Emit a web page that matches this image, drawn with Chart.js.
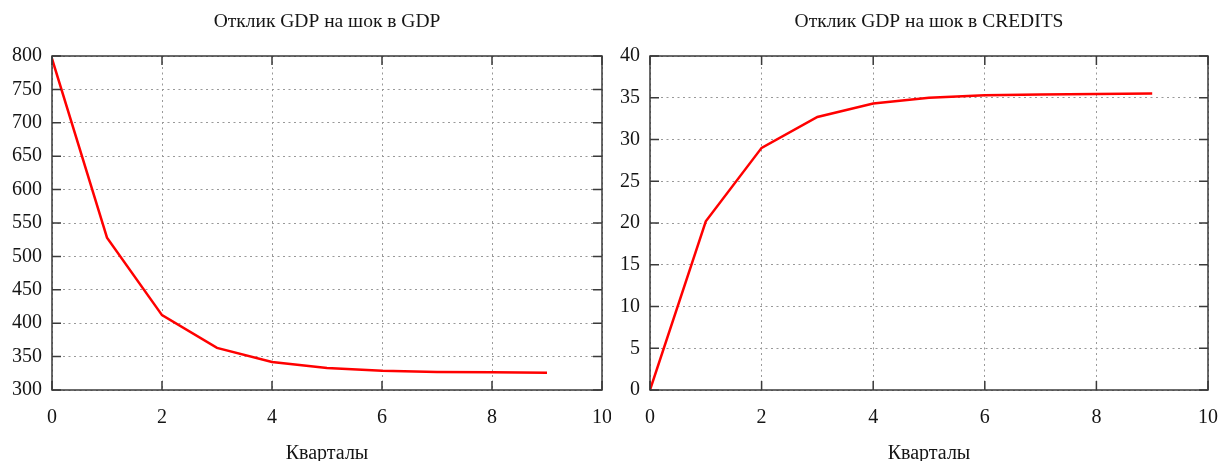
<!DOCTYPE html>
<html>
<head>
<meta charset="utf-8">
<script src="https://cdn.jsdelivr.net/npm/chart.js@4.4.1/dist/chart.umd.min.js"></script>
<style>
html,body{margin:0;padding:0;background:#fff;}
#wrap{width:1222px;height:461px;display:flex;}
.cell{width:611px;height:461px;position:relative;}
canvas{display:block;}
</style>
</head>
<body>
<div id="wrap">
  <div class="cell"><canvas id="c1" width="611" height="461"></canvas></div>
  <div class="cell"><canvas id="c2" width="611" height="461"></canvas></div>
</div>
<script>
// ---- data ----
const quarters = [0, 1, 2, 3, 4, 5, 6, 7, 8, 9];
const gdpShockGdp = [796, 528, 412, 363, 342, 333, 329, 327, 326.5, 326];
const gdpShockCredits = [0, 20.2, 29.0, 32.7, 34.3, 35.0, 35.3, 35.4, 35.45, 35.5];
const title1 = 'Отклик GDP на шок в GDP';
const title2 = 'Отклик GDP на шок в CREDITS';
const xTitle = 'Кварталы';

const FONT = '"Liberation Serif", "Times New Roman", serif';
const TEXT = '#151515';

// gnuplot-like frame: box border, inward mirrored ticks, titles centred over plot area
const frame = {
  id: 'frame',
  afterDraw(chart, args, opts) {
    const {ctx, chartArea: a, scales: {x, y}} = chart;
    const L = 9;
    ctx.save();
    ctx.strokeStyle = '#3a3a3a';
    ctx.lineWidth = 1.5;
    ctx.beginPath();
    x.ticks.forEach(t => {
      const p = x.getPixelForValue(t.value);
      ctx.moveTo(p, a.bottom); ctx.lineTo(p, a.bottom - L);
      ctx.moveTo(p, a.top); ctx.lineTo(p, a.top + L);
    });
    y.ticks.forEach(t => {
      const p = y.getPixelForValue(t.value);
      ctx.moveTo(a.left, p); ctx.lineTo(a.left + L, p);
      ctx.moveTo(a.right, p); ctx.lineTo(a.right - L, p);
    });
    ctx.stroke();
    ctx.strokeRect(a.left, a.top, a.right - a.left, a.bottom - a.top);

    const cx = (a.left + a.right) / 2;
    ctx.fillStyle = TEXT;
    ctx.textAlign = 'center';
    ctx.textBaseline = 'alphabetic';
    ctx.font = '19.5px ' + FONT;
    ctx.fillText(opts.title, cx, a.top - 29);
    ctx.font = '20px ' + FONT;
    ctx.fillText(opts.xTitle, cx, a.bottom + 69);
    ctx.restore();
  }
};

function make(id, title, data, yMin, yMax, yStep, yWidth, padRight) {
  return new Chart(document.getElementById(id), {
    type: 'line',
    data: {
      datasets: [{
        data: quarters.map((q, i) => ({x: q, y: data[i]})),
        borderColor: '#ff0000',
        borderWidth: 2.5,
        pointRadius: 0,
        tension: 0,
        fill: false
      }]
    },
    options: {
      responsive: false,
      animation: false,
      layout: {padding: {left: 0, right: padRight, top: 56, bottom: 0}},
      plugins: {
        legend: {display: false},
        tooltip: {enabled: false},
        title: {display: false},
        frame: {title: title, xTitle: xTitle}
      },
      scales: {
        x: {
          type: 'linear',
          min: 0, max: 10,
          ticks: {stepSize: 2, color: TEXT, font: {family: FONT, size: 20}, padding: 16, maxRotation: 0},
          grid: {color: '#999', lineWidth: 1, drawTicks: false},
          border: {display: false, dash: [2, 3.5]},
          afterFit(s) { s.height = 71; s.paddingLeft = 0; s.paddingRight = 0; }
        },
        y: {
          min: yMin, max: yMax,
          ticks: {stepSize: yStep, color: TEXT, font: {family: FONT, size: 20}, padding: 10},
          grid: {color: '#999', lineWidth: 1, drawTicks: false},
          border: {display: false, dash: [2, 3.5]},
          afterFit(s) { s.width = yWidth; s.paddingTop = 0; s.paddingBottom = 0; }
        }
      }
    },
    plugins: [frame]
  });
}

make('c1', title1, gdpShockGdp, 300, 800, 50, 52, 9);
make('c2', title2, gdpShockCredits, 0, 40, 5, 39, 14);
</script>
</body>
</html>
